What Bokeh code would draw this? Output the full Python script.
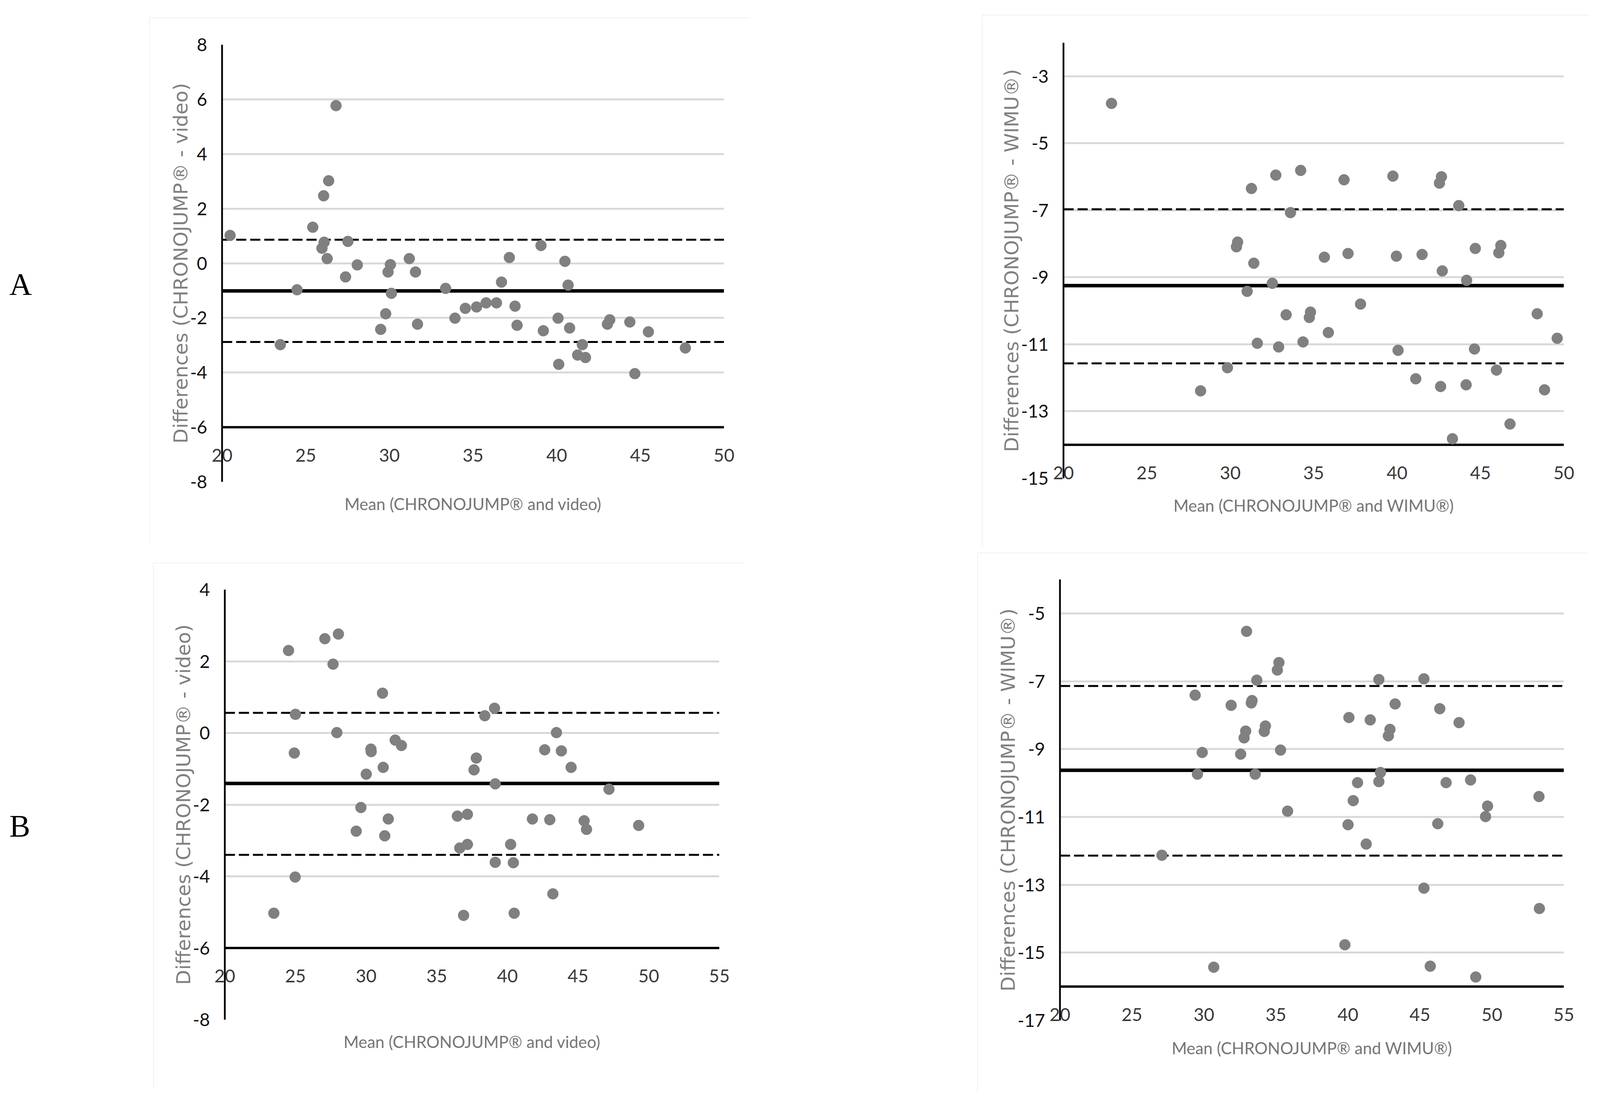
from bokeh.plotting import figure
from bokeh.models import (Range1d, FixedTicker, Span, Div, Spacer)
from bokeh.layouts import row, column
from bokeh.embed import file_html
from bokeh.resources import INLINE

# ---------------- data ----------------
# Panel A, CHRONOJUMP vs video
al_x = [20.48, 23.48, 24.48, 25.42, 26.07, 25.97, 26.10, 26.28, 26.37, 26.81, 27.38, 27.52,
        28.08, 29.48, 29.78, 29.92, 30.06, 30.12, 31.19, 31.56, 31.68, 33.36, 33.92, 34.54,
        35.21, 35.78, 36.40, 36.70, 37.17, 37.51, 37.63, 39.06, 39.20, 40.08, 40.12, 40.49,
        40.68, 40.77, 41.25, 41.53, 41.72, 43.03, 43.17, 44.37, 44.67, 45.48, 47.69]
al_y = [1.02, -2.98, -0.97, 1.32, 2.47, 0.55, 0.77, 0.17, 3.02, 5.77, -0.50, 0.80,
        -0.06, -2.42, -1.85, -0.32, -0.05, -1.10, 0.17, -0.32, -2.23, -0.92, -2.01, -1.65,
        -1.60, -1.45, -1.45, -0.69, 0.21, -1.57, -2.27, 0.65, -2.47, -2.01, -3.70, 0.07,
        -0.80, -2.37, -3.36, -2.98, -3.45, -2.23, -2.07, -2.15, -4.04, -2.51, -3.10]
al_bias, al_upper, al_lower = -1.01, 0.86, -2.88

# Panel A, CHRONOJUMP vs WIMU
ar_x = [22.88, 28.22, 29.83, 30.37, 30.44, 31.01, 31.27, 31.41, 31.62, 32.52, 32.73, 32.90,
        33.35, 33.61, 34.22, 34.36, 34.74, 34.81, 35.64, 35.88, 36.82, 37.06, 37.81, 39.75,
        39.96, 40.06, 41.12, 41.50, 42.54, 42.66, 42.61, 42.71, 43.32, 43.70, 44.14, 44.17,
        44.64, 44.69, 45.96, 46.10, 46.22, 46.77, 48.40, 48.84, 49.60]
ar_y = [-3.81, -12.39, -11.70, -8.09, -7.95, -9.42, -6.35, -8.58, -10.97, -9.18, -5.95, -11.08,
        -10.12, -7.07, -5.81, -10.93, -10.20, -10.04, -8.40, -10.65, -6.09, -8.29, -9.80, -5.98,
        -8.37, -11.18, -12.03, -8.32, -6.19, -6.00, -12.26, -8.81, -13.82, -6.86, -12.21, -9.09,
        -11.14, -8.14, -11.77, -8.27, -8.05, -13.38, -10.09, -12.36, -10.82]
ar_bias, ar_upper, ar_lower = -9.25, -6.97, -11.57

# Panel B, CHRONOJUMP vs video
bl_x = [23.47, 24.51, 24.92, 25.00, 24.98, 27.08, 27.66, 27.93, 28.04, 29.30, 29.63, 30.01,
        30.34, 30.36, 31.16, 31.21, 31.32, 31.57, 32.06, 32.50, 36.46, 36.63, 36.90, 37.17,
        37.17, 37.64, 37.80, 38.40, 39.09, 39.14, 39.14, 40.23, 40.42, 40.48, 41.77, 42.64,
        43.00, 43.22, 43.47, 43.82, 44.51, 45.43, 45.60, 47.19, 49.29]
bl_y = [-5.03, 2.30, -0.56, 0.52, -4.02, 2.63, 1.92, 0.01, 2.76, -2.74, -2.08, -1.15,
        -0.45, -0.52, 1.11, -0.96, -2.87, -2.40, -0.20, -0.35, -2.32, -3.21, -5.09, -2.27,
        -3.11, -1.03, -0.70, 0.48, 0.69, -1.42, -3.61, -3.11, -3.62, -5.03, -2.40, -0.47,
        -2.42, -4.49, 0.01, -0.50, -0.96, -2.45, -2.69, -1.57, -2.58]
bl_bias, bl_upper, bl_lower = -1.41, 0.56, -3.40

# Panel B, CHRONOJUMP vs WIMU
br_x = [27.08, 29.39, 29.55, 29.88, 30.68, 31.89, 32.55, 32.79, 32.90, 32.96, 33.29, 33.34,
        33.56, 33.67, 34.19, 34.27, 35.10, 35.21, 35.32, 35.81, 39.79, 40.01, 40.07, 40.37,
        40.67, 41.27, 41.55, 42.15, 42.15, 42.26, 42.81, 42.92, 43.28, 45.28, 45.28, 45.72,
        46.24, 46.38, 46.82, 47.72, 48.52, 48.88, 49.56, 49.70, 53.27, 53.30]
br_y = [-12.13, -7.41, -9.74, -9.10, -15.43, -7.71, -9.15, -8.67, -8.47, -5.53, -7.64, -7.57,
        -9.74, -6.97, -8.48, -8.32, -6.67, -6.45, -9.03, -10.83, -14.77, -11.23, -8.07, -10.52,
        -9.99, -11.80, -8.14, -6.95, -9.96, -9.69, -8.61, -8.42, -7.67, -6.93, -13.10, -15.40,
        -11.20, -7.81, -9.99, -8.22, -9.91, -15.72, -10.99, -10.68, -10.40, -13.70]
br_bias, br_upper, br_lower = -9.625, -7.14, -12.14

# ticks and tick labels
al_xticks = [20, 25, 30, 35, 40, 45, 50]
al_yticks = [-8, -6, -4, -2, 0, 2, 4, 6, 8]
al_ylabels = ["-8", "-6", "-4", "-2", "0", "2", "4", "6", "8"]
ar_xticks = [20, 25, 30, 35, 40, 45, 50]
ar_yticks = [-15, -13, -11, -9, -7, -5, -3]
ar_ylabels = ["-15", "-13", "-11", "-9", "-7", "-5", "-3"]
bl_xticks = [20, 25, 30, 35, 40, 45, 50, 55]
bl_yticks = [-8, -6, -4, -2, 0, 2, 4]
bl_ylabels = ["-8", "-6", "-4", "-2", "0", "2", "4"]
br_xticks = [20, 25, 30, 35, 40, 45, 50, 55]
br_yticks = [-17, -15, -13, -11, -9, -7, -5]
br_ylabels = ["-17", "-15", "-13", "-11", "-9", "-7", "-5"]

ylab_video = "Differences (CHRONOJUMP\u00ae - video)"
ylab_wimu = "Differences (CHRONOJUMP\u00ae - WIMU\u00ae)"
xlab_video = "Mean (CHRONOJUMP\u00ae and video)"
xlab_wimu = "Mean (CHRONOJUMP\u00ae and WIMU\u00ae)"

POINT = "#808080"
GRID = "#d9d9d9"
TICK_FONT = "Lato"
TITLE_FONT = "Lato"
YTITLE_FONT = "DejaVu Sans"

# ---------------- geometry ----------------
# the browser shows a 4096 x 2852 viewport: horizontal reference pixels are
# scaled, vertical ones are kept
SX = 4096 / 5979.0
SY = 1.0
TICK_PX = 46.0
TITLE_PX = 42.0
YTITLE_PX = 50.0


def panel(xs, ys, bias, upper, lower, xr, yr, xticks, yticks, ylabels, axis_at, ylab, xlab,
          box, frame, ytitle_gap, xtitle_gap, widest_label):
    bx0, by0, bx1, by1 = box
    fx0, fy0, fx1, fy1 = frame
    W, H = int(round((bx1 - bx0) * SX)), int(round((by1 - by0) * SY))
    bl, br = int(round((fx0 - bx0) * SX)), int(round((bx1 - fx1) * SX))
    bt, bb = int(round((fy0 - by0) * SY)), int(round((by1 - fy1) * SY))
    p = figure(width=W, height=H, x_range=Range1d(*xr), y_range=Range1d(*yr),
               output_backend="svg", toolbar_location=None,
               min_border_left=bl, min_border_right=br, min_border_top=bt,
               min_border_bottom=bb, outline_line_color=None,
               background_fill_color="white", border_fill_color="white",
               styles={"outline": "4px solid #dcdcdc", "outline-offset": "-4px"})
    for g in p.xgrid:
        g.visible = False

    # vertical axis
    lab_std = int(round(56 * SX))
    lab_w = widest_label * TICK_PX
    yax = p.yaxis[0]
    yax.ticker = FixedTicker(ticks=yticks)
    yax.major_label_overrides = dict(zip(yticks, ylabels))
    yax.axis_line_color = "black"
    yax.axis_line_width = 4.5
    yax.major_tick_line_color = None
    yax.minor_tick_line_color = None
    yax.major_tick_out = 0
    yax.major_tick_in = 0
    yax.major_label_standoff = lab_std
    yax.major_label_text_font = TICK_FONT
    yax.major_label_text_font_size = "%.0fpx" % TICK_PX
    yax.major_label_text_color = "#111111"
    yax.axis_label = ylab
    yax.axis_label_text_font = YTITLE_FONT
    yax.axis_label_text_font_size = "%.0fpx" % YTITLE_PX
    yax.axis_label_text_font_style = "normal"
    yax.axis_label_text_color = "#808080"
    yax.axis_label_standoff = max(-8, int(round(ytitle_gap * SX - lab_std - lab_w
                                                - 0.79 * YTITLE_PX)))
    p.ygrid.grid_line_color = GRID
    p.ygrid.grid_line_width = 5

    # horizontal axis: labels lifted to sit under the crossing line (Excel style)
    frame_h = H - bt - bb
    axis_rel = frame_h * (axis_at - yr[0]) / (yr[1] - yr[0])
    mls = int(round(-axis_rel + 73 * SY - 0.4 * TICK_PX))
    lab_h = 0.83 * TICK_PX
    als = int(round(xtitle_gap * SY - 0.61 * TITLE_PX - (lab_h + mls)))

    xax = p.xaxis[0]
    xax.ticker = FixedTicker(ticks=xticks)
    xax.axis_line_color = None
    xax.major_tick_line_color = None
    xax.minor_tick_line_color = None
    xax.major_tick_out = 0
    xax.major_tick_in = 0
    xax.major_label_standoff = mls
    xax.major_label_text_font = TICK_FONT
    xax.major_label_text_font_size = "%.0fpx" % TICK_PX
    xax.major_label_text_color = "#3a3a3a"
    xax.axis_label = xlab
    xax.axis_label_text_font = TITLE_FONT
    xax.axis_label_text_font_size = "%.0fpx" % TITLE_PX
    xax.axis_label_text_font_style = "normal"
    xax.axis_label_text_color = "#757575"
    xax.axis_label_standoff = als

    # horizontal axis line where the axes cross, bias and limits of agreement
    p.add_layout(Span(location=axis_at, dimension="width", line_color="black",
                      line_width=6, level="underlay"))
    p.add_layout(Span(location=upper, dimension="width", line_color="black",
                      line_width=5, line_dash="26 10", level="underlay"))
    p.add_layout(Span(location=lower, dimension="width", line_color="black",
                      line_width=5, line_dash="26 10", level="underlay"))
    p.add_layout(Span(location=bias, dimension="width", line_color="black",
                      line_width=9, level="underlay"))

    p.scatter(xs, ys, marker="circle", size=28, fill_color=POINT, line_color=POINT)
    return p, (int(round(bx0 * SX)) - 8, int(round(by0 * SY)) - 8, W, H)


# boxes and frames, in reference pixels (left, top, right, bottom)
pAL, gAL = panel(al_x, al_y, al_bias, al_upper, al_lower, (20, 50), (-8, 8), al_xticks,
                 al_yticks, al_ylabels, -6, ylab_video, xlab_video,
                 (555, 53, 2798, 1403), (826, 122, 2701, 1241), 146, 59, 0.87)
pAR, gAR = panel(ar_x, ar_y, ar_bias, ar_upper, ar_lower, (20, 50), (-15, -2), ar_xticks,
                 ar_yticks, ar_ylabels, -14, ylab_wimu, xlab_wimu,
                 (3667, 46, 5935, 1412), (3970, 117, 5840, 1232), 180, 72, 1.45)
pBL, gBL = panel(bl_x, bl_y, bl_bias, bl_upper, bl_lower, (20, 55), (-8, 4), bl_xticks,
                 bl_yticks, bl_ylabels, -6, ylab_video, xlab_video,
                 (569, 1449, 2781, 2795), (836, 1517, 2685, 2618), 144, 59, 0.87)
pBR, gBR = panel(br_x, br_y, br_bias, br_upper, br_lower, (20, 55), (-17, -4), br_xticks,
                 br_yticks, br_ylabels, -16, ylab_wimu, xlab_wimu,
                 (3649, 1423, 5930, 2806), (3957, 1491, 5840, 2620), 185, 73, 1.45)

LETTER_PX = 80.0
letter_style = {"font-family": "Liberation Serif", "font-size": "%.0fpx" % LETTER_PX,
                "line-height": "1", "color": "black"}
LW, LH = 80, 100
divA = Div(text="A", width=LW, height=LH, styles=letter_style)
divB = Div(text="B", width=LW, height=LH, styles=letter_style)
base_off = 0.8375 * LETTER_PX
gA = (int(round(40 * SX)) - 8, int(round(758 * SY - base_off)) - 8, LW, LH)
gB = (int(round(40 * SX)) - 8, int(round(2145 * SY - base_off)) - 8, LW, LH)


def build_row(items, row_top):
    children = []
    cur = 0
    for (left, top, w, h), el in items:
        gap = left - cur
        if gap > 0:
            children.append(Spacer(width=gap, height=1))
        dy = top - row_top
        if dy > 0:
            children.append(column(Spacer(width=w, height=dy), el))
        else:
            children.append(el)
        cur = left + w
    return row(*children)


row1 = build_row([(gA, divA), (gAL, pAL), (gAR, pAR)], 0)
row1_h = max(g[1] + g[3] for g in (gA, gAL, gAR))
row2 = build_row([(gB, divB), (gBL, pBL), (gBR, pBR)], row1_h)
root = column(row1, row2)

open("out.html", "w").write(file_html(root, INLINE))
